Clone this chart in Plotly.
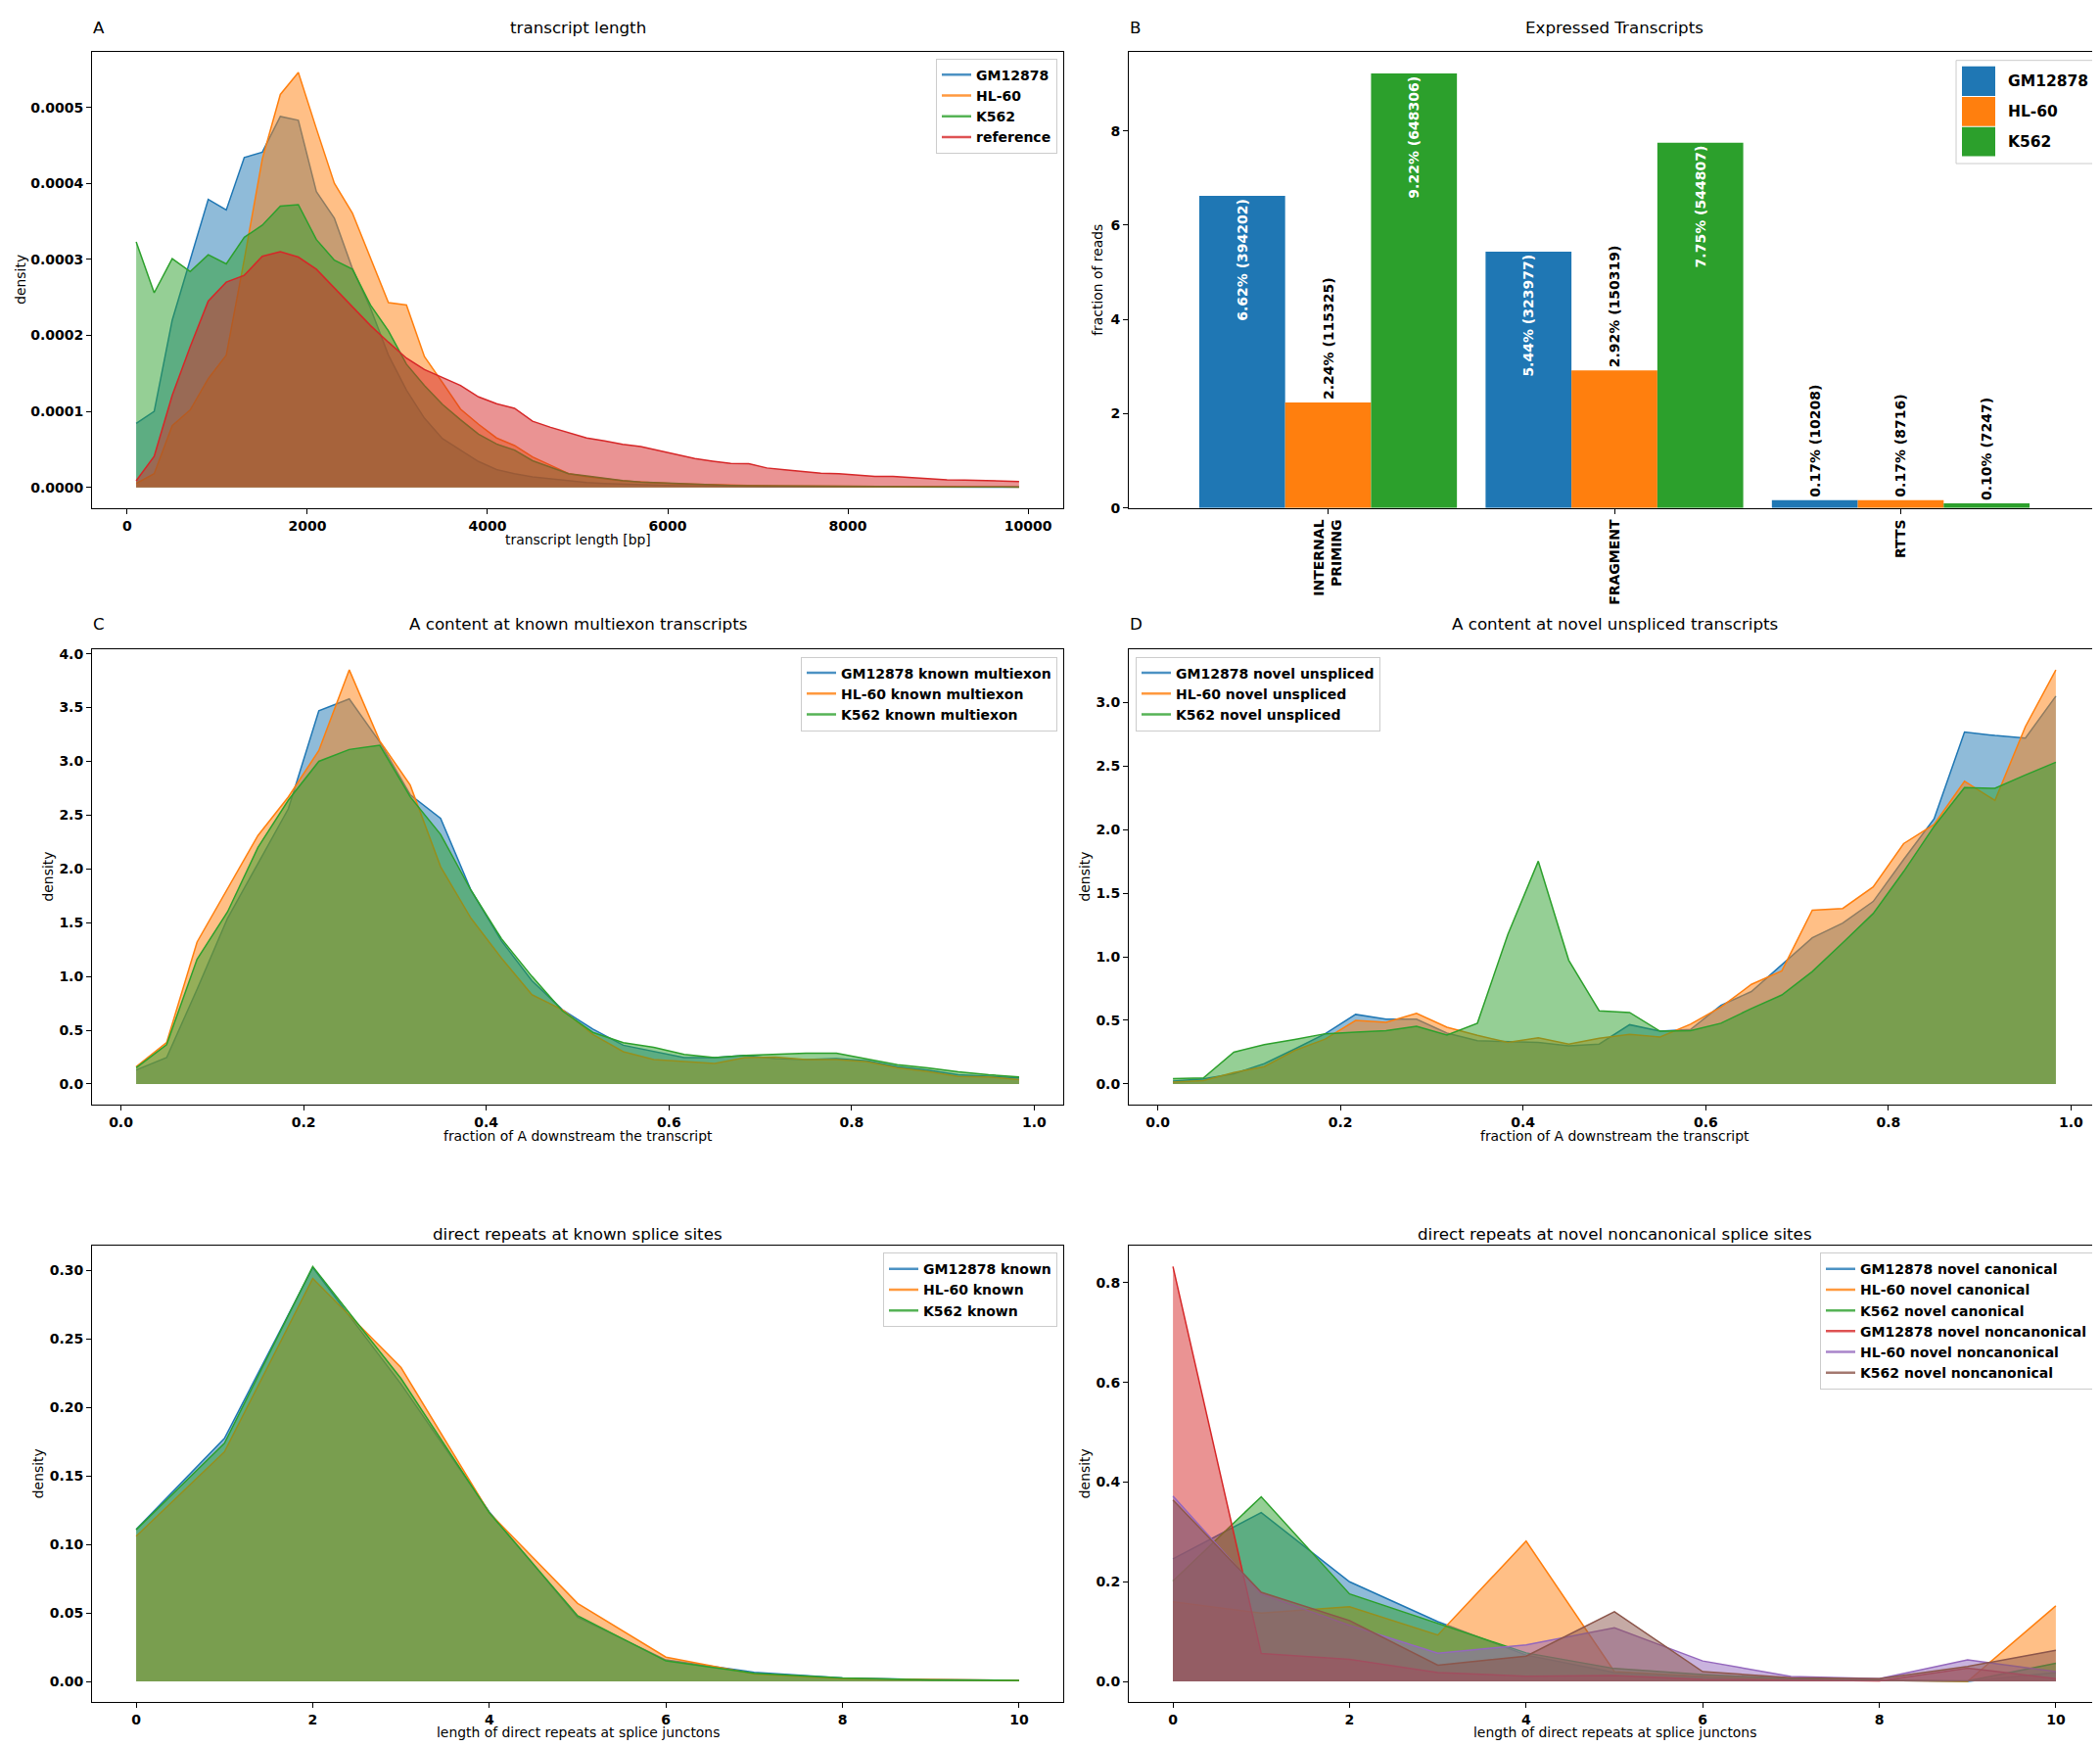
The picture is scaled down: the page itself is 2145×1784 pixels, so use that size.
import plotly.graph_objects as go

W, H = 2145, 1784
FONT = "DejaVu Sans"

def px(x):
    return x / W

def py(y):
    return 1 - y / H

TAB = ["#1f77b4", "#ff7f0e", "#2ca02c", "#d62728", "#9467bd", "#8c564b"]
TAB_RGBA = ["rgba(31,119,180,0.5)", "rgba(255,127,14,0.5)", "rgba(44,160,44,0.5)",
            "rgba(214,39,40,0.5)", "rgba(148,103,189,0.5)", "rgba(140,86,75,0.5)"]

# ---------------- Panel A: transcript length (density, units of 1e-4) ----------------
len_bins = list(range(100, 10000, 200))
len_gm12878_e4 = [0.84, 1.00, 2.20, 3.00, 3.79, 3.65, 4.34, 4.41, 4.88, 4.83,
                  3.89, 3.54, 2.88, 2.36, 1.74, 1.28, 0.91, 0.64, 0.49, 0.34,
                  0.234, 0.18, 0.136, 0.11, 0.08, 0.062, 0.05, 0.04, 0.032, 0.027,
                  0.02, 0.016, 0.013, 0.011, 0.009, 0.008, 0.007, 0.006, 0.005, 0.004,
                  0.004, 0.003, 0.003, 0.002, 0.002, 0.002, 0.002, 0.001, 0.001, 0.001]
len_hl60_e4 = [0.05, 0.18, 0.81, 1.02, 1.43, 1.74, 3.00, 4.32, 5.17, 5.46,
               4.72, 4.00, 3.61, 3.02, 2.43, 2.40, 1.72, 1.38, 1.03, 0.83,
               0.65, 0.55, 0.40, 0.29, 0.18, 0.14, 0.11, 0.085, 0.07, 0.055,
               0.047, 0.04, 0.033, 0.028, 0.024, 0.02, 0.017, 0.015, 0.013, 0.011,
               0.01, 0.009, 0.008, 0.007, 0.006, 0.005, 0.005, 0.004, 0.004, 0.003]
len_k562_e4 = [3.23, 2.56, 3.01, 2.84, 3.06, 2.94, 3.29, 3.45, 3.70, 3.72,
               3.26, 2.99, 2.87, 2.40, 2.06, 1.62, 1.34, 1.09, 0.89, 0.70,
               0.57, 0.49, 0.35, 0.27, 0.18, 0.15, 0.12, 0.09, 0.07, 0.06,
               0.05, 0.04, 0.03, 0.025, 0.02, 0.018, 0.016, 0.014, 0.012, 0.011,
               0.01, 0.009, 0.008, 0.007, 0.007, 0.006, 0.006, 0.005, 0.005, 0.004]
len_reference_e4 = [0.085, 0.41, 1.21, 1.85, 2.45, 2.70, 2.79, 3.04, 3.10, 3.03,
                    2.87, 2.62, 2.37, 2.13, 1.91, 1.70, 1.55, 1.45, 1.34, 1.19,
                    1.10, 1.04, 0.87, 0.79, 0.715, 0.65, 0.61, 0.566, 0.536, 0.485,
                    0.43, 0.38, 0.345, 0.315, 0.31, 0.255, 0.23, 0.208, 0.187, 0.178,
                    0.161, 0.144, 0.144, 0.127, 0.11, 0.10, 0.097, 0.089, 0.08, 0.076]
len_series = [("GM12878", len_gm12878_e4), ("HL-60", len_hl60_e4),
              ("K562", len_k562_e4), ("reference", len_reference_e4)]
len_ticks = [0, 2000, 4000, 6000, 8000, 10000]

# ---------------- Panel B: expressed transcripts ----------------
b_categories = ["INTERNAL<br>PRIMING", "FRAGMENT", "RTTS"]
b_gm12878 = [6.62, 5.44, 0.17]
b_hl60 = [2.24, 2.92, 0.17]
b_k562 = [9.22, 7.75, 0.10]
b_gm12878_n = [394202, 323977, 10208]
b_hl60_n = [115325, 150319, 8716]
b_k562_n = [648306, 544807, 7247]
b_series = [("GM12878", b_gm12878, b_gm12878_n), ("HL-60", b_hl60, b_hl60_n),
            ("K562", b_k562, b_k562_n)]

# ---------------- Panels C, D: A content ----------------
a_bins = [(i + 0.5) / 30 for i in range(30)]
c_gm12878 = [0.13, 0.245, 0.88, 1.54, 2.05, 2.56, 3.47, 3.58, 3.18, 2.69,
             2.47, 1.80, 1.33, 0.96, 0.69, 0.51, 0.36, 0.30, 0.245, 0.245,
             0.265, 0.235, 0.227, 0.236, 0.215, 0.16, 0.13, 0.086, 0.07, 0.056]
c_hl60 = [0.16, 0.385, 1.32, 1.81, 2.31, 2.67, 3.10, 3.85, 3.19, 2.78,
          2.02, 1.54, 1.17, 0.83, 0.69, 0.46, 0.30, 0.227, 0.206, 0.19,
          0.245, 0.25, 0.227, 0.227, 0.206, 0.15, 0.116, 0.07, 0.066, 0.04]
c_k562 = [0.15, 0.365, 1.16, 1.60, 2.20, 2.64, 3.00, 3.11, 3.15, 2.67,
          2.32, 1.80, 1.35, 1.00, 0.68, 0.48, 0.385, 0.34, 0.275, 0.245,
          0.265, 0.275, 0.287, 0.287, 0.236, 0.18, 0.15, 0.113, 0.086, 0.066]
d_gm12878 = [0.022, 0.04, 0.08, 0.16, 0.275, 0.395, 0.547, 0.51, 0.51, 0.40,
             0.34, 0.334, 0.326, 0.30, 0.314, 0.466, 0.415, 0.428, 0.618, 0.727,
             0.935, 1.15, 1.265, 1.435, 1.765, 2.085, 2.767, 2.74, 2.72, 3.05]
d_hl60 = [0.015, 0.027, 0.09, 0.136, 0.263, 0.353, 0.50, 0.485, 0.555, 0.446,
          0.383, 0.326, 0.364, 0.314, 0.36, 0.39, 0.37, 0.47, 0.605, 0.783,
          0.89, 1.367, 1.38, 1.55, 1.89, 2.04, 2.38, 2.23, 2.81, 3.256]
d_k562 = [0.042, 0.047, 0.25, 0.31, 0.35, 0.395, 0.407, 0.42, 0.453, 0.384,
          0.478, 1.176, 1.752, 0.973, 0.575, 0.562, 0.415, 0.42, 0.478, 0.593,
          0.70, 0.884, 1.11, 1.34, 1.67, 2.026, 2.33, 2.325, 2.43, 2.53]

# ---------------- Panels E, F: direct repeats ----------------
rep_len = [0, 1, 2, 3, 4, 5, 6, 7, 8, 9, 10]
e_gm12878 = [0.111, 0.1774, 0.302, 0.217, 0.1237, 0.0469, 0.0157, 0.0067, 0.0025, 0.0013, 0.0008]
e_hl60 = [0.106, 0.1675, 0.294, 0.229, 0.123, 0.057, 0.0178, 0.0055, 0.002, 0.0013, 0.0008]
e_k562 = [0.1107, 0.1738, 0.3027, 0.221, 0.123, 0.048, 0.015, 0.006, 0.0025, 0.0012, 0.0008]
f_gm_can = [0.246, 0.339, 0.200, 0.120, 0.053, 0.018, 0.0087, 0.0035, 0.002, 0.0003, 0.018]
f_hl_can = [0.16, 0.137, 0.15, 0.093, 0.2816, 0.020, 0.0107, 0.004, 0.002, 0.0003, 0.1517]
f_k5_can = [0.2016, 0.3706, 0.1757, 0.116, 0.0574, 0.026, 0.0139, 0.0055, 0.002, 0.001, 0.0366]
f_gm_nc = [0.8325, 0.056, 0.0444, 0.0178, 0.0107, 0.012, 0.0042, 0.002, 0.001, 0.0269, 0.0055]
f_hl_nc = [0.3722, 0.1757, 0.1127, 0.0567, 0.0736, 0.1075, 0.0412, 0.01, 0.0055, 0.0432, 0.0198]
f_k5_nc = [0.364, 0.179, 0.1223, 0.0327, 0.0509, 0.14, 0.0198, 0.0074, 0.0055, 0.03, 0.0627]

fig = go.Figure()

def mpl_range(lo, hi):
    pad = (hi - lo) * 0.05
    return [lo - pad, hi + pad]

def add_density(x, y, name, ci, ax, legend):
    fig.add_trace(go.Scatter(
        x=x, y=y, mode="lines", name=name,
        line=dict(color=TAB[ci], width=1.5),
        fill="tozeroy", fillcolor=TAB_RGBA[ci],
        xaxis="x" + ax, yaxis="y" + ax, showlegend=False, hoverinfo="skip"))
    # legend entry shown as a plain line (as in the original)
    fig.add_trace(go.Scatter(
        x=[None], y=[None], mode="lines", name=name,
        line=dict(color=TAB[ci], width=2.5), opacity=0.8,
        xaxis="x" + ax, yaxis="y" + ax, legend=legend, showlegend=True))

# Panel A
for i, (nm, vals) in enumerate(len_series):
    add_density(len_bins, [v * 1e-4 for v in vals], nm, i, "", "legend")

# Panel B
for i, (nm, vals, counts) in enumerate(b_series):
    pos = ["inside" if v > 4 else "outside" for v in vals]
    fig.add_trace(go.Bar(
        x=[0, 1, 2], y=vals, name=nm, marker=dict(color=TAB[i], line=dict(width=0)),
        text=[f"{v:.2f}% ({n})" for v, n in zip(vals, counts)],
        textposition=pos, textangle=-90, insidetextanchor="end",
        insidetextfont=dict(family=FONT, size=14, color="white", weight="bold"),
        outsidetextfont=dict(family=FONT, size=14, color="black", weight="bold"),
        constraintext="none", cliponaxis=False,
        xaxis="x2", yaxis="y2", showlegend=False, hoverinfo="skip"))

# Panel C
for i, (nm, vals) in enumerate([("GM12878 known multiexon", c_gm12878),
                                ("HL-60 known multiexon", c_hl60),
                                ("K562 known multiexon", c_k562)]):
    add_density(a_bins, vals, nm, i, "3", "legend2")

# Panel D
for i, (nm, vals) in enumerate([("GM12878 novel unspliced", d_gm12878),
                                ("HL-60 novel unspliced", d_hl60),
                                ("K562 novel unspliced", d_k562)]):
    add_density(a_bins, vals, nm, i, "4", "legend3")

# Panel E
for i, (nm, vals) in enumerate([("GM12878 known", e_gm12878),
                                ("HL-60 known", e_hl60),
                                ("K562 known", e_k562)]):
    add_density(rep_len, vals, nm, i, "5", "legend4")

# Panel F
for i, (nm, vals) in enumerate([("GM12878 novel canonical", f_gm_can),
                                ("HL-60 novel canonical", f_hl_can),
                                ("K562 novel canonical", f_k5_can),
                                ("GM12878 novel noncanonical", f_gm_nc),
                                ("HL-60 novel noncanonical", f_hl_nc),
                                ("K562 novel noncanonical", f_k5_nc)]):
    add_density(rep_len, vals, nm, i, "6", "legend5")

# ---------------- axes ----------------
boxes = {
    "": (86, 1078, 42, 511),
    "2": (1145, 2137, 42, 511),
    "3": (86, 1078, 656, 1124),
    "4": (1145, 2137, 656, 1124),
    "5": (86, 1078, 1269, 1738),
    "6": (1145, 2137, 1269, 1738),
}
tickfont = dict(family=FONT, size=14, color="black", weight="bold")
common = dict(showline=True, mirror=True, linecolor="black", linewidth=1,
              ticks="outside", ticklen=5, tickwidth=1, tickcolor="black",
              showgrid=False, zeroline=False, tickfont=tickfont, fixedrange=True)

amax = max(max(v) for _, v in len_series) * 1e-4
axes_cfg = {
    "": (dict(range=mpl_range(100, 9900), tickvals=len_ticks, ticktext=[str(t) for t in len_ticks]),
         dict(range=mpl_range(0, amax), tickvals=[0, 1e-4, 2e-4, 3e-4, 4e-4, 5e-4], tickformat=".4f")),
    "2": (dict(range=[-0.696, 2.696], tickvals=[0, 1, 2], ticktext=b_categories, tickangle=-90),
          dict(range=[0, max(b_k562) * 1.05], tickvals=[0, 2, 4, 6, 8])),
    "3": (dict(range=mpl_range(a_bins[0], a_bins[-1]), tickvals=[0, 0.2, 0.4, 0.6, 0.8, 1.0], tickformat=".1f"),
          dict(range=mpl_range(0, max(c_gm12878 + c_hl60 + c_k562)), tickvals=[0, 0.5, 1, 1.5, 2, 2.5, 3, 3.5, 4], tickformat=".1f")),
    "4": (dict(range=mpl_range(a_bins[0], a_bins[-1]), tickvals=[0, 0.2, 0.4, 0.6, 0.8, 1.0], tickformat=".1f"),
          dict(range=mpl_range(0, max(d_gm12878 + d_hl60 + d_k562)), tickvals=[0, 0.5, 1, 1.5, 2, 2.5, 3], tickformat=".1f")),
    "5": (dict(range=mpl_range(0, 10), tickvals=[0, 2, 4, 6, 8, 10]),
          dict(range=mpl_range(0, max(e_gm12878 + e_hl60 + e_k562)), tickvals=[0, 0.05, 0.1, 0.15, 0.2, 0.25, 0.3], tickformat=".2f")),
    "6": (dict(range=mpl_range(0, 10), tickvals=[0, 2, 4, 6, 8, 10]),
          dict(range=mpl_range(0, max(f_gm_nc + f_hl_nc + f_k5_nc + f_gm_can + f_hl_can + f_k5_can)),
               tickvals=[0, 0.2, 0.4, 0.6, 0.8], tickformat=".1f")),
}
layout_axes = {}
for s, (x0, x1, y0, y1) in boxes.items():
    xc, yc = axes_cfg[s]
    layout_axes["xaxis" + s] = dict(domain=[px(x0), px(x1)], anchor="y" + s, **common, **xc)
    layout_axes["yaxis" + s] = dict(domain=[py(y1), py(y0)], anchor="x" + s, **common, **yc)

# ---------------- legends ----------------
def leg(xr, yt, anchor="right"):
    return dict(x=px(xr), y=py(yt), xanchor=anchor, yanchor="top",
                font=dict(family=FONT, size=14, color="black", weight="bold"),
                bgcolor="rgba(255,255,255,0.8)", bordercolor="#cccccc", borderwidth=1,
                itemwidth=30, tracegroupgap=0)

# ---------------- annotations ----------------
ann = []
def text(x, y, t, size=16.7, bold=False, angle=0, xanchor="center", yanchor="middle"):
    f = dict(family=FONT, size=size, color="black")
    if bold:
        f["weight"] = "bold"
    ann.append(dict(x=px(x), y=py(y), xref="paper", yref="paper", text=t, showarrow=False,
                    font=f, textangle=angle, xanchor=xanchor, yanchor=yanchor, borderpad=0))

# panel letters and titles
text(86, 17, "A", xanchor="left")
text(582, 17, "transcript length")
text(1145, 17, "B", xanchor="left")
text(1641, 17, "Expressed Transcripts")
text(86, 630, "C", xanchor="left")
text(582, 630, "A content at known multiexon transcripts")
text(1145, 630, "D", xanchor="left")
text(1641, 630, "A content at novel unspliced transcripts")
text(582, 1257, "direct repeats at known splice sites")
text(1641, 1257, "direct repeats at novel noncanonical splice sites")

# axis titles
text(582, 543, "transcript length [bp]", size=13.9)
text(582, 1156, "fraction of A downstream the transcript", size=13.9)
text(1641, 1156, "fraction of A downstream the transcript", size=13.9)
text(582, 1769, "length of direct repeats at splice junctons", size=13.9)
text(1641, 1769, "length of direct repeats at splice junctons", size=13.9)
text(13, 276.5, "density", size=13.9, angle=-90)
text(1113, 276.5, "fraction of reads", size=13.9, angle=-90)
text(41, 890, "density", size=13.9, angle=-90)
text(1100, 890, "density", size=13.9, angle=-90)
text(31, 1503.5, "density", size=13.9, angle=-90)
text(1100, 1503.5, "density", size=13.9, angle=-90)

# custom legend for panel B (large patches)
shapes = [dict(type="rect", xref="paper", yref="paper", x0=px(1990), x1=px(2137),
               y0=py(157), y1=py(51), line=dict(color="#cccccc", width=1),
               fillcolor="rgba(255,255,255,0.8)", layer="above")]
patch_rows = [(57, 87.5), (88.5, 118.5), (119.5, 149.5)]
for i, ((nm, _, _), (t0, t1)) in enumerate(zip(b_series, patch_rows)):
    shapes.append(dict(type="rect", xref="paper", yref="paper", x0=px(1996), x1=px(2030),
                       y0=py(t1), y1=py(t0), line=dict(width=0), fillcolor=TAB[i], layer="above"))
    text(2042, (t0 + t1) / 2, nm, size=15.5, bold=True, xanchor="left")

fig.update_layout(
    width=W, height=H, margin=dict(l=0, r=0, t=0, b=0),
    paper_bgcolor="white", plot_bgcolor="white",
    font=dict(family=FONT, color="black"),
    barmode="group", bargap=0.1, bargroupgap=0,
    legend=leg(1072, 49), legend2=leg(1072, 663.6), legend3=leg(1152, 663.6, "left"),
    legend4=leg(1072, 1276), legend5=leg(2130, 1276),
    annotations=ann, shapes=shapes, showlegend=True,
    **layout_axes,
)

fig.write_html("out.html")
